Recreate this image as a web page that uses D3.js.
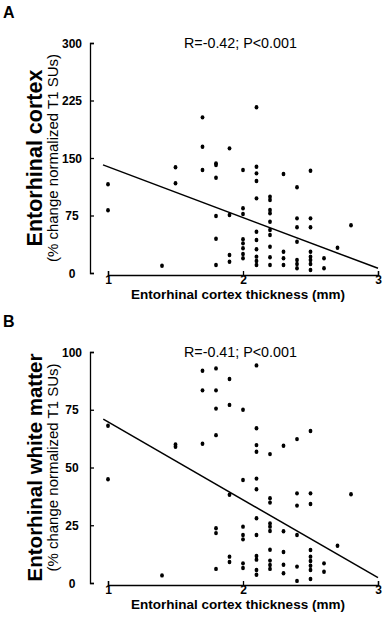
<!DOCTYPE html>
<html>
<head>
<meta charset="utf-8">
<script src="https://cdn.jsdelivr.net/npm/d3@7"></script>
<style>
  html, body { margin: 0; padding: 0; background: #fff; }
  svg { display: block; }
  text { font-family: Arial, "Liberation Sans", sans-serif; fill: #000; }
</style>
</head>
<body>
<svg id="chart" width="383" height="618"></svg>
<script>
// x axis ticks are shared by both panels
const xTicks = [1, 2, 3];
const cortexTicks = [0, 75, 150, 225, 300];
const whiteTicks = [0, 25, 50, 75, 100];

// Panel A: cortex thickness (mm) vs % change normalized T1 SUs
const cortexPoints = [
    [1.0, 115.7], [1.0, 81.8],
    [1.4, 9.5],
    [1.5, 137.9], [1.5, 117],
    [1.7, 203], [1.7, 164.7], [1.7, 134.3],
    [1.8, 143], [1.8, 140.9], [1.8, 124.3], [1.8, 74.3], [1.8, 44.7], [1.8, 10.4],
    [1.9, 162.6], [1.9, 75.7], [1.9, 23.5], [1.9, 14.7],
    [2.0, 134.3], [2.0, 84.4], [2.0, 77], [2.0, 44], [2.0, 38.7], [2.0, 32.2], [2.0, 24.8], [2.0, 19.2],
    [2.1, 216.1], [2.1, 138.6], [2.1, 130], [2.1, 120], [2.1, 97.4], [2.1, 53.9], [2.1, 43],
    [2.1, 30.9], [2.1, 21.3], [2.1, 15.7], [2.1, 10.4],
    [2.2, 99.5], [2.2, 95.2], [2.2, 82.2], [2.2, 77.9], [2.2, 66.9], [2.2, 56.1], [2.2, 49.6],
    [2.2, 34.3], [2.2, 20.5], [2.2, 10.4],
    [2.3, 129.1], [2.3, 27.8], [2.3, 19.2], [2.3, 10.4],
    [2.4, 111.8], [2.4, 71.3], [2.4, 59.6], [2.4, 40.8], [2.4, 17], [2.4, 11.7], [2.4, 6.1],
    [2.5, 133.4], [2.5, 71.3], [2.5, 59.6], [2.5, 27.8], [2.5, 21.3], [2.5, 17], [2.5, 11.7], [2.5, 3.9],
    [2.6, 19.2], [2.6, 6.1],
    [2.7, 33],
    [2.8, 62.2]
];
const cortexFit = [[0.963, 141], [3.0, 6.1]];

// Panel B: white matter
const whitePoints = [
    [1.0, 68.1], [1.0, 44.9],
    [1.4, 3.3],
    [1.5, 60.0], [1.5, 59.0],
    [1.7, 91.9], [1.7, 83.4], [1.7, 60.3],
    [1.8, 92.9], [1.8, 83.4], [1.8, 75.5], [1.8, 64.0], [1.8, 23.7], [1.8, 21.6], [1.8, 6.1],
    [1.9, 88.3], [1.9, 77.1], [1.9, 38.2], [1.9, 11.4], [1.9, 9.1],
    [2.0, 75.0], [2.0, 44.6], [2.0, 24.4], [2.0, 20.8], [2.0, 18.9], [2.0, 8.5], [2.0, 6.5],
    [2.1, 94.2], [2.1, 67.0], [2.1, 59.7], [2.1, 56.8], [2.1, 45.2], [2.1, 40.6], [2.1, 28.0],
    [2.1, 20.8], [2.1, 11.7], [2.1, 10.1], [2.1, 5.6], [2.1, 3.6],
    [2.2, 55.8], [2.2, 36.7], [2.2, 34.8], [2.2, 25.8], [2.2, 24.4], [2.2, 22.5], [2.2, 14.4],
    [2.2, 9.7], [2.2, 7.8], [2.2, 6.1],
    [2.3, 59.4], [2.3, 22.4], [2.3, 13.4], [2.3, 7.9], [2.3, 4.2],
    [2.4, 62.3], [2.4, 38.8], [2.4, 33.5], [2.4, 20.8], [2.4, 7.1], [2.4, 0.9],
    [2.5, 65.8], [2.5, 38.8], [2.5, 34.2], [2.5, 14.3], [2.5, 11.4], [2.5, 9.5], [2.5, 7.5], [2.5, 5.6], [2.5, 1.7],
    [2.6, 8.5], [2.6, 4.9],
    [2.7, 16.1],
    [2.8, 38.4]
];
const whiteFit = [[0.965, 70.9], [3.0, 2.3]];

const svg = d3.select('#chart');
svg.append('rect').attr('width', 383).attr('height', 618).attr('fill', '#fff');

const xLeft = 108, xRight = 378, yAxisX = 90;

function drawPanel(opts) {
    const x = d3.scaleLinear().domain([1, 3]).range([xLeft, xRight]);
    const y = d3.scaleLinear().domain(opts.yDomain).range([opts.bottom, opts.top]);

    // panel letter
    svg.append('text')
        .attr('x', 3).attr('y', opts.top - 25)
        .attr('font-size', 16).attr('font-weight', 'bold')
        .text(opts.letter);

    // y axis (ticks point inward)
    let yAxis = d3.axisLeft(y)
        .tickValues(opts.yTicks)
        .tickSizeInner(-4)
        .tickSizeOuter(-4)
        .tickPadding(0);
    let gy = svg.append('g')
        .attr('transform', `translate(${yAxisX},0)`)
        .call(yAxis);
    gy.selectAll('path, line').attr('stroke-width', 1.3);
    gy.selectAll('.tick text')
        .attr('x', -18)
        .attr('dy', '0.35em')
        .attr('text-anchor', 'middle')
        .attr('font-size', 12)
        .attr('font-weight', 'bold')
        .attr('font-family', 'Arial, "Liberation Sans", sans-serif');

    // x axis
    let xAxis = d3.axisBottom(x)
        .tickValues(xTicks)
        .tickFormat(d3.format('d'))
        .tickSizeInner(-4)
        .tickSizeOuter(-4)
        .tickPadding(0);
    let gx = svg.append('g')
        .attr('transform', `translate(0,${opts.bottom + 2})`)
        .call(xAxis);
    gx.selectAll('path, line').attr('stroke-width', 1.3);
    gx.selectAll('.tick text')
        .attr('font-size', 12)
        .attr('font-weight', 'bold')
        .attr('font-family', 'Arial, "Liberation Sans", sans-serif');

    svg.append('text')
        .attr('x', 238).attr('y', opts.bottom + 26)
        .attr('text-anchor', 'middle')
        .attr('font-size', 13.5).attr('font-weight', 'bold')
        .text('Entorhinal cortex thickness (mm)');

    // y titles
    let midY = (opts.top + opts.bottom) / 2;
    svg.append('text')
        .attr('transform', `translate(42,${midY}) rotate(-90)`)
        .attr('text-anchor', 'middle')
        .attr('font-size', opts.titleSize).attr('font-weight', 'bold')
        .text(opts.title);
    svg.append('text')
        .attr('transform', `translate(58,${midY}) rotate(-90)`)
        .attr('text-anchor', 'middle')
        .attr('font-size', 15)
        .text('(% change normalized T1 SUs)');

    // stats
    svg.append('text')
        .attr('x', 184).attr('y', opts.top + 5)
        .attr('font-size', 14.3)
        .text(opts.stats);

    // regression line
    svg.append('path')
        .datum(opts.fit)
        .attr('d', d3.line().x(d => x(d[0])).y(d => y(d[1])))
        .attr('fill', 'none')
        .attr('stroke', '#000')
        .attr('stroke-width', 1.5);

    // points
    svg.append('g').selectAll('ellipse')
        .data(opts.points)
        .join('ellipse')
        .attr('cx', d => x(d[0]))
        .attr('cy', d => y(d[1]))
        .attr('rx', 1.9)
        .attr('ry', 2.2)
        .attr('fill', '#000');
}

drawPanel({
    letter: 'A', top: 43, bottom: 273, yDomain: [0, 300], yTicks: cortexTicks,
    title: 'Entorhinal cortex', titleSize: 21.5, stats: 'R=-0.42; P<0.001',
    points: cortexPoints, fit: cortexFit
});

drawPanel({
    letter: 'B', top: 352, bottom: 583, yDomain: [0, 100], yTicks: whiteTicks,
    title: 'Entorhinal white matter', titleSize: 20.5, stats: 'R=-0.41; P<0.001',
    points: whitePoints, fit: whiteFit
});
</script>
</body>
</html>
